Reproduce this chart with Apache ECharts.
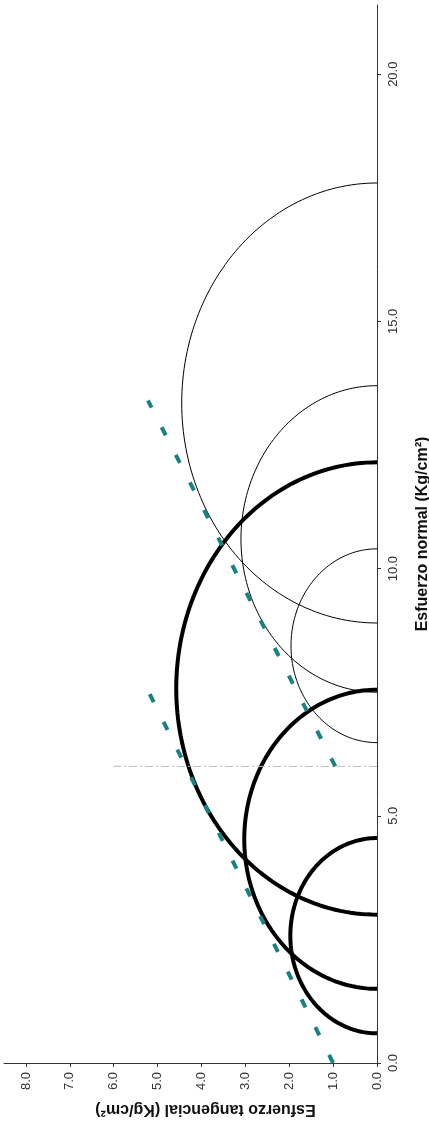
<!DOCTYPE html>
<html>
<head>
<meta charset="utf-8">
<script src="https://cdn.jsdelivr.net/npm/echarts@6/dist/echarts.min.js"></script>
<style>
html,body{margin:0;padding:0;background:#fff;}
#chart{width:429px;height:1127px;}
</style>
</head>
<body>
<div id="chart"></div>
<script>
// Data (tau = esfuerzo tangencial, sigma = esfuerzo normal), Kg/cm²
const sigmaTicks = [0, 5, 10, 15, 20];
const tauTicks = [0, 1, 2, 3, 4, 5, 6, 7, 8];
// Mohr circles as [sigma3, sigma1]
const thickCircles = [[0.6, 4.55], [1.5, 7.55], [3.0, 12.15]];
const thinCircles = [[6.48, 10.4], [7.5, 13.7], [8.9, 17.8]];
// Failure envelopes as [tau, sigma]
const envelope1 = [[1.0, 0.0], [5.2, 7.5]];
const envelope2 = [[0.95, 6.0], [5.22, 13.4]];
// Reference line at sigma = 6
const refLine = [[0.0, 6.0], [6.0, 6.0]];

const chart = echarts.init(document.getElementById('chart'));

function circleRenderer(width) {
  return function (params, api) {
    const s3 = api.value(0), s1 = api.value(1);
    const c = (s3 + s1) / 2, r = (s1 - s3) / 2;
    const pts = [];
    for (let i = 0; i <= 120; i++) {
      const t = Math.PI * i / 120;
      pts.push(api.coord([r * Math.sin(t), c - r * Math.cos(t)]));
    }
    return {
      type: 'polyline',
      shape: { points: pts },
      style: { stroke: '#000', lineWidth: width, fill: null }
    };
  };
}

const font = '"Liberation Sans", Arial, sans-serif';

chart.setOption({
  animation: false,
  backgroundColor: '#fff',
  grid: { left: 4, right: 52, top: 5, bottom: 64, outerBoundsMode: 'none', containLabel: false },
  xAxis: {
    type: 'value',
    min: 0, max: 8.5,
    inverse: true,
    position: 'bottom',
    name: 'Esfuerzo tangencial (Kg/cm²)',
    nameLocation: 'middle',
    nameRotate: 180,
    nameGap: 38,
    nameTextStyle: { fontFamily: font, fontWeight: 'bold', fontSize: 16, color: '#111', padding: [0, 30, 0, 0] },
    axisLine: { show: true, onZero: false, lineStyle: { color: '#333', width: 1 } },
    axisTick: { show: true, inside: false, length: 4, customValues: tauTicks, lineStyle: { color: '#333' } },
    axisLabel: {
      customValues: tauTicks, rotate: 90, margin: 9,
      fontFamily: font, fontSize: 13, color: '#333',
      formatter: v => v.toFixed(1)
    },
    splitLine: { show: false }
  },
  yAxis: {
    type: 'value',
    min: 0, max: 21.4,
    position: 'right',
    name: 'Esfuerzo normal (Kg/cm²)',
    nameLocation: 'middle',
    nameRotate: 90,
    nameGap: 38,
    nameTextStyle: { fontFamily: font, fontWeight: 'bold', fontSize: 16, color: '#111' },
    axisLine: { show: true, onZero: false, lineStyle: { color: '#333', width: 1 } },
    axisTick: { show: true, inside: false, length: 4, customValues: sigmaTicks, lineStyle: { color: '#333' } },
    axisLabel: {
      customValues: sigmaTicks, rotate: 90, margin: 10,
      fontFamily: font, fontSize: 13, color: '#333',
      formatter: v => v.toFixed(1)
    },
    splitLine: { show: false }
  },
  series: [
    {
      type: 'line', data: refLine, symbol: 'none',
      lineStyle: { color: '#bcbcbc', width: 1, type: [8, 3, 2, 3] }
    },
    {
      type: 'custom', data: thinCircles, renderItem: circleRenderer(1), z: 3
    },
    {
      type: 'custom', data: thickCircles, renderItem: circleRenderer(4), z: 3
    },
    {
      type: 'line', data: envelope1, symbol: 'none', z: 4,
      lineStyle: { color: '#1a8080', width: 4, type: [9, 22] }
    },
    {
      type: 'line', data: envelope2, symbol: 'none', z: 4,
      lineStyle: { color: '#1a8080', width: 4, type: [9, 22] }
    }
  ]
});
</script>
</body>
</html>
